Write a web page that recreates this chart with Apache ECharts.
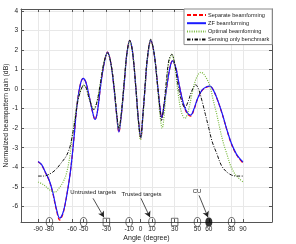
<!DOCTYPE html>
<html><head><meta charset="utf-8">
<script src="https://cdn.jsdelivr.net/npm/echarts@6/dist/echarts.min.js"></script>
<style>html,body{margin:0;padding:0;background:#fff}#c{width:296px;height:244px}</style>
</head><body><div id="c"></div>
<script>
// ---- data ----
const xTicks = [-90,-80,-60,-50,-30,-10,0,10,30,50,60,80,90];
const yTicks = [-6,-5,-4,-3,-2,-1,0,1,2,3,4];

const zfAngle = [-90,-87,-84,-80,-77,-74,-71,-68,-65,-62,-60,-58,-56,-53,-50.5,-48,-45,-42,-40,-38,-35,-32,-29,-26,-23,-21,-19,-17,-14,-12,-9.5,-7,-4,-2,0.3,2,4,6,9,12,15,17,18.5,20,23,25.5,28,31,34,38,41,44,47,50,54,58,61,64,68,72,76,80,84,87,90];
const zfGain  = [-3.7,-3.85,-4.2,-4.7,-5.3,-6.1,-6.6,-6.3,-5.5,-4.4,-3.4,-2.2,-0.9,0.2,0.55,0.35,-0.4,-1.2,-1.55,-1.2,0.2,1.3,1.9,1.3,-0.1,-1.3,-2.2,-1.4,0.5,1.8,2.48,1.9,0,-1.5,-2.5,-1.4,0.1,1.55,2.48,1.8,0.2,-0.9,-1.45,-1.1,0.1,1.0,1.45,1.1,0.2,-0.8,-1.2,-1.33,-1.0,-0.5,-0.05,0.12,0.15,-0.05,-0.6,-1.3,-2.1,-2.8,-3.3,-3.55,-3.73];

const sepAngle = [-90,-87,-84,-80,-77,-74,-71,-68,-65,-62,-60,-58,-56,-53,-50.5,-48,-45,-42,-40,-38,-35,-32,-29,-26,-23,-21,-19,-17,-14,-12,-9.5,-7,-4,-2,0.3,2,4,6,9,12,15,17,18.5,20,23,25.5,28,31,34,38,41,44,47,50,54,58,61,64,68,72,76,80,84,87,90];
const sepGain  = [-3.72,-3.87,-4.22,-4.72,-5.35,-6.15,-6.7,-6.35,-5.5,-4.4,-3.4,-2.2,-0.9,0.2,0.55,0.35,-0.4,-1.2,-1.55,-1.2,0.2,1.3,1.9,1.3,-0.1,-1.3,-2.2,-1.4,0.5,1.8,2.48,1.9,0,-1.5,-2.5,-1.4,0.1,1.55,2.48,1.8,0.2,-0.9,-1.45,-1.1,0.1,1.0,1.45,1.1,0.2,-0.82,-1.25,-1.38,-1.05,-0.52,-0.08,0.1,0.14,-0.05,-0.62,-1.32,-2.12,-2.83,-3.33,-3.58,-3.78];

const optAngle = [-90,-85,-80,-75,-72,-68,-65,-62,-60,-57.5,-55,-52,-50,-48,-45,-41,-38,-35,-32,-29,-26,-23,-21,-19,-17,-14,-12,-9.5,-7,-4,-2,0,2,4,6,9,12,15,17,19,21,23,25,27.5,30,33,36,39,42,45,48,51,53,55,58,61,64,67,70,73,76,79,83,87,90];
const optGain  = [-4.75,-4.9,-5.15,-5.27,-5.1,-4.75,-4.3,-3.4,-2.4,-1.4,-0.5,0.05,0.2,0.1,-0.5,-1.0,-0.55,0.4,1.4,1.85,1.3,0,-1.3,-2.05,-1.3,0.6,1.8,2.45,1.9,0,-1.6,-2.6,-1.5,0.1,1.55,2.45,1.8,0.1,-1.3,-2.0,-1.2,0.4,1.4,1.78,1.2,-0.2,-1.2,-1.5,-1.1,-0.3,0.4,0.78,0.86,0.8,0.55,0.15,-0.6,-1.3,-2.1,-2.8,-3.35,-3.9,-4.35,-4.6,-4.75];

const senAngle = [-90,-85,-80,-75,-70,-65,-62,-60,-57.5,-55,-52,-50,-48,-45,-41,-38,-35,-32,-29,-26,-23,-21,-19,-17,-14,-12,-9.5,-7,-4,-2,0,2,4,6,9,12,15,17,18.5,20,23,25,27.5,30,33,36,39,42,45,48.5,51,54,57,60,63,67,71,75,80,85,90];
const senGain  = [-4.45,-4.45,-4.35,-4.15,-3.8,-3.4,-2.95,-2.4,-1.6,-0.6,0.0,0.2,0.1,-0.5,-1.05,-0.6,0.4,1.4,1.85,1.3,0,-1.2,-2.0,-1.3,0.6,1.8,2.5,1.9,0.0,-1.5,-2.45,-1.4,0.2,1.6,2.55,1.8,0.2,-1.0,-1.6,-1.1,0.6,1.5,1.78,1.3,0.2,-0.6,-0.95,-0.6,-0.1,0.22,0.0,-0.6,-1.3,-2.0,-2.7,-3.3,-3.9,-4.2,-4.4,-4.45,-4.45];

const circleTargets = [-80,-50,-10,10,50,80];
const squareTargets = [-30,30];
const cuAngle = [60];

const seriesNames = ['Separate beamforming','ZF beamforming','Optimal beamforming','Sensing only benchmark'];
const notes = [
  {text:'Untrusted targets', at:[-41.5,-5.28], from:[-41.7,-5.59], to:[-32.1,-6.56]},
  {text:'Trusted targets',   at:[0.9,-5.36],   from:[0.4,-5.59],   to:[8.3,-6.56]},
  {text:'CU',                at:[49.6,-5.23],  from:[51.4,-5.44],  to:[59.3,-6.56]}
];

// ---- chart ----
const X_MIN = -105, X_MAX = 115.5, Y_MIN = -6.8, Y_MAX = 4.1;
const pairs = (a, b) => a.map((x, i) => [x, b[i]]);
const font = 'Liberation Sans, Arial, sans-serif';
const axisCol = '#555';
const blank = () => '';
const hiddenLabel = {show: false, formatter: blank, color: 'rgba(0,0,0,0)', fontSize: 1};

const chart = echarts.init(document.getElementById('c'), null, {renderer: 'canvas'});

const baseX = {
  type: 'value', min: X_MIN, max: X_MAX,
  axisLine: {show: true, onZero: false, lineStyle: {color: axisCol, width: 1}},
  axisTick: {show: true, inside: true, length: 3, customValues: xTicks, lineStyle: {color: axisCol}},
  splitLine: {show: false}
};
const baseY = {
  type: 'value', min: Y_MIN, max: Y_MAX,
  axisLine: {show: true, onZero: false, lineStyle: {color: axisCol, width: 1}},
  axisTick: {show: true, inside: true, length: 3, customValues: yTicks, lineStyle: {color: axisCol}},
  splitLine: {show: false}
};

const option = {
  animation: false,
  backgroundColor: '#fff',
  textStyle: {fontFamily: font},
  grid: {left: 21, right: 24, top: 9, bottom: 22, containLabel: false, outerBoundsMode: 'none'},
  xAxis: [
    Object.assign({}, baseX, {
      position: 'bottom',
      name: 'Angle (degree)', nameLocation: 'middle', nameGap: 13, nameMoveOverlap: false,
      nameTextStyle: {fontSize: 7, color: '#222', fontFamily: font},
      axisLabel: {show: true, customValues: xTicks, fontSize: 6.5, color: '#222', margin: 4, fontFamily: font},
      splitLine: {show: true, lineStyle: {color: '#e8e8e8', width: 1}}
    }),
    Object.assign({}, baseX, {position: 'top', axisLabel: Object.assign({customValues: xTicks}, hiddenLabel)})
  ],
  yAxis: [
    Object.assign({}, baseY, {
      position: 'left',
      name: 'Normalized beampattern gain (dB)', nameLocation: 'middle', nameGap: 11, nameMoveOverlap: false,
      nameTextStyle: {fontSize: 6.8, color: '#222', fontFamily: font},
      axisLabel: {show: true, customValues: yTicks, fontSize: 6.5, color: '#222', margin: 3, fontFamily: font},
      splitLine: {show: true, lineStyle: {color: '#e8e8e8', width: 1}}
    }),
    Object.assign({}, baseY, {position: 'right', axisLabel: Object.assign({customValues: yTicks}, hiddenLabel)})
  ],
  legend: {
    data: seriesNames,
    orient: 'vertical', left: 184, top: 9,
    padding: [3, 3, 2, 2], itemGap: 2.2, itemWidth: 19, itemHeight: 6,
    backgroundColor: '#fff', borderColor: '#888', borderWidth: 1,
    itemStyle: {opacity: 0},
    textStyle: {fontSize: 5.6, color: '#222', fontFamily: font, padding: [0, 0, 0, -3]}
  },
  series: [
    {name: seriesNames[0], type: 'line', data: pairs(sepAngle, sepGain), smooth: 0.35, symbol: 'none', z: 2,
     lineStyle: {color: '#ff0000', width: 1.2, type: [4, 2]}, itemStyle: {color: '#ff0000'}},
    {name: seriesNames[1], type: 'line', data: pairs(zfAngle, zfGain), smooth: 0.35, symbol: 'none', z: 3,
     lineStyle: {color: '#1a1aff', width: 1.2, type: 'solid'}, itemStyle: {color: '#1a1aff'}},
    {name: seriesNames[2], type: 'line', data: pairs(optAngle, optGain), smooth: 0.35, symbol: 'none', z: 4,
     lineStyle: {color: '#77b83a', width: 1.2, type: [1, 1.3]}, itemStyle: {color: '#77b83a'}},
    {name: seriesNames[3], type: 'line', data: pairs(senAngle, senGain), smooth: 0.35, symbol: 'none', z: 5,
     lineStyle: {color: '#111', width: 1, type: [3.5, 1.5, 1, 1.5]}, itemStyle: {color: '#111'}},
    {type: 'scatter', data: circleTargets.map(a => [a, Y_MIN]), symbol: 'circle', symbolSize: [6.5, 9], clip: false, z: 6,
     itemStyle: {color: 'rgba(255,255,255,0)', borderColor: '#222', borderWidth: 0.8}},
    {type: 'scatter', data: squareTargets.map(a => [a, Y_MIN]), symbol: 'rect', symbolSize: [6.5, 7.5], clip: false, z: 6,
     itemStyle: {color: 'rgba(255,255,255,0)', borderColor: '#222', borderWidth: 0.8}},
    {type: 'scatter', data: cuAngle.map(a => [a, Y_MIN]), symbol: 'circle', symbolSize: [7, 9], clip: false, z: 6,
     itemStyle: {color: '#000'},
     markLine: {
       silent: true, symbol: ['none', 'arrow'], symbolSize: [5, 6], animation: false,
       lineStyle: {color: '#222', width: 0.8, type: 'solid'}, label: {show: false},
       data: notes.map(n => [{coord: n.from}, {coord: n.to}])
     }}
  ]
};
chart.setOption(option);

// annotation texts, placed through the chart's own coordinate conversion
chart.setOption({
  graphic: notes.map(n => {
    const p = chart.convertToPixel({gridIndex: 0}, n.at);
    return {type: 'text', x: p[0], y: p[1], z: 10,
      style: {text: n.text, fontSize: 6, fill: '#222', fontFamily: font, align: 'center', verticalAlign: 'middle'}};
  })
});
</script></body></html>
